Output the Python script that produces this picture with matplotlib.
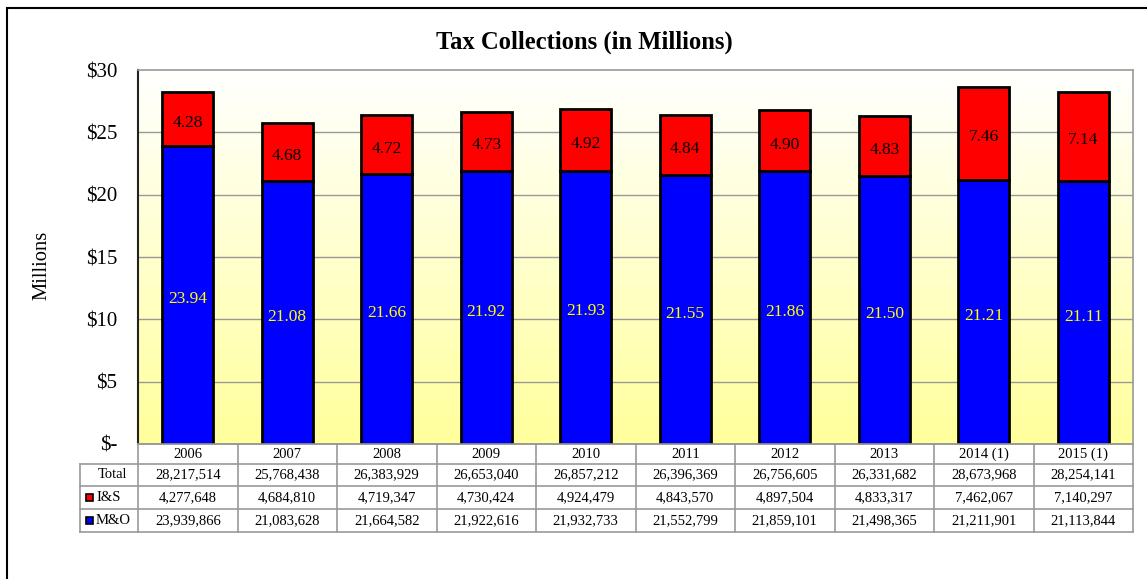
import numpy as np
import matplotlib
matplotlib.use("Agg")
import matplotlib.pyplot as plt
import matplotlib.transforms as mtransforms
from matplotlib.patches import Rectangle
from matplotlib.lines import Line2D

years = ["2006", "2007", "2008", "2009", "2010", "2011", "2012", "2013", "2014 (1)", "2015 (1)"]
mo = [23939866, 21083628, 21664582, 21922616, 21932733, 21552799, 21859101, 21498365, 21211901, 21113844]
ins = [4277648, 4684810, 4719347, 4730424, 4924479, 4843570, 4897504, 4833317, 7462067, 7140297]
totals = [28217514, 25768438, 26383929, 26653040, 26857212, 26396369, 26756605, 26331682, 28673968, 28254141]
yticks = [0, 5, 10, 15, 20, 25, 30]
ytick_labels = ["$-", "$5", "$10", "$15", "$20", "$25", "$30"]

plt.rcParams["font.family"] = ["Liberation Serif", "DejaVu Serif"]

W, H = 1147, 579
fig = plt.figure(figsize=(W / 100, H / 100), dpi=100)

def fx(px):
    return px / W

def fy(py):
    return 1 - py / H

# outer chart frame
fig.patches.append(Rectangle((fx(7), fy(590)), fx(1160) - fx(7), fy(8) - fy(590),
                             transform=fig.transFigure, fill=False, edgecolor="black",
                             linewidth=1.5, zorder=0))

left, right, top, bottom = 138, 1133, 70, 444
ax = fig.add_axes([fx(left), fy(bottom), fx(right) - fx(left), fy(top) - fy(bottom)])

n = len(years)
x = np.arange(n)
ax.set_xlim(-0.5, n - 0.5)
ax.set_ylim(0, 30)

# vertical gradient background: white at top to pale yellow at bottom
grad = np.linspace(0, 1, 256).reshape(-1, 1)
c_top = np.array([1.0, 1.0, 1.0])
c_bot = np.array([1.0, 1.0, 0.61])
img = c_bot + (c_top - c_bot) * grad[..., None]
img = img.reshape(256, 1, 3)
ax.imshow(img, extent=(-0.5, n - 0.5, 0, 30), origin="lower", aspect="auto", zorder=0)

for yv in yticks[1:-1]:
    ax.axhline(yv, color="#999999", linewidth=1.0, zorder=1)

mo_m = np.array(mo) / 1e6
ins_m = np.array(ins) / 1e6
bw = 0.51
ax.bar(x, mo_m, bw, color="#0000FF", edgecolor="black", linewidth=2.0, zorder=3)
ax.bar(x, ins_m, bw, bottom=mo_m, color="#FF0000", edgecolor="black", linewidth=2.0, zorder=3)

# segment labels, nudged slightly below the segment centre
lab_tr = mtransforms.offset_copy(ax.transData, fig=fig, x=0, y=-3, units="points")
for i in range(n):
    ax.text(x[i], mo_m[i] / 2, f"{mo_m[i]:.2f}", ha="center", va="center",
            color="#FFFF00", fontsize=12.5, zorder=4, transform=lab_tr)
    ax.text(x[i], mo_m[i] + ins_m[i] / 2, f"{ins_m[i]:.2f}", ha="center", va="center",
            color="black", fontsize=12.5, zorder=4, transform=lab_tr)

ax.set_yticks(yticks)
ax.set_yticklabels(ytick_labels, fontsize=15)
ax.tick_params(axis="y", length=0, pad=15)
ax.set_xticks([])
for s in ax.spines.values():
    s.set_color("#999999")
    s.set_linewidth(1.2)
ax.spines["left"].set_color("#222222")
ax.spines["left"].set_linewidth(1.5)

fig.text(fx(42), fy(265), "Millions", rotation=90, ha="center", va="center", fontsize=14.8)
fig.text(fx(584), fy(42), "Tax Collections (in Millions)", ha="center", va="center",
         fontsize=17.7, fontweight="bold")

# data table under the axis
bt = mtransforms.blended_transform_factory(ax.transData, fig.transFigure)
col_w = (right - left) / n
lab_left = -0.5 - (left - 80) / col_w
row_edges = [444, 464, 486, 509, 532]
gc = "#999999"
lw = 1.2

# horizontal lines
fig.lines.append(Line2D([-0.5, n - 0.5], [fy(444), fy(444)], transform=bt, color=gc, lw=lw))
for ry in row_edges[1:]:
    fig.lines.append(Line2D([lab_left, n - 0.5], [fy(ry), fy(ry)], transform=bt, color=gc, lw=lw))
# vertical lines
for k in range(n + 1):
    xv = k - 0.5
    fig.lines.append(Line2D([xv, xv], [fy(444), fy(532)], transform=bt, color=gc, lw=lw))
fig.lines.append(Line2D([lab_left, lab_left], [fy(464), fy(532)], transform=bt, color=gc, lw=lw))

def mid(a, b):
    return fy((a + b) / 2)

tfs = 10.5
for i in range(n):
    fig.text(x[i], mid(444, 464), years[i], transform=bt, ha="center", va="center", fontsize=tfs)
    fig.text(x[i], mid(464, 486), f"{totals[i]:,}", transform=bt, ha="center", va="center", fontsize=tfs)
    fig.text(x[i], mid(486, 509), f"{ins[i]:,}", transform=bt, ha="center", va="center", fontsize=tfs)
    fig.text(x[i], mid(509, 532), f"{mo[i]:,}", transform=bt, ha="center", va="center", fontsize=tfs)

fig.text(fx(112), mid(464, 486), "Total", ha="center", va="center", fontsize=tfs)
row_labels = [("I&S", "#FF0000", 486, 509), ("M&O", "#0000FF", 509, 532)]
for lab, col, a, b in row_labels:
    yc = (a + b) / 2
    fig.patches.append(Rectangle((fx(86), fy(yc + 3.5)), fx(7), fy(yc - 3.5) - fy(yc + 3.5),
                                 transform=fig.transFigure, facecolor=col, edgecolor="black",
                                 linewidth=1.2))
    fig.text(fx(96), fy(yc), lab, ha="left", va="center", fontsize=tfs)

fig.savefig("out.png", dpi=100)
